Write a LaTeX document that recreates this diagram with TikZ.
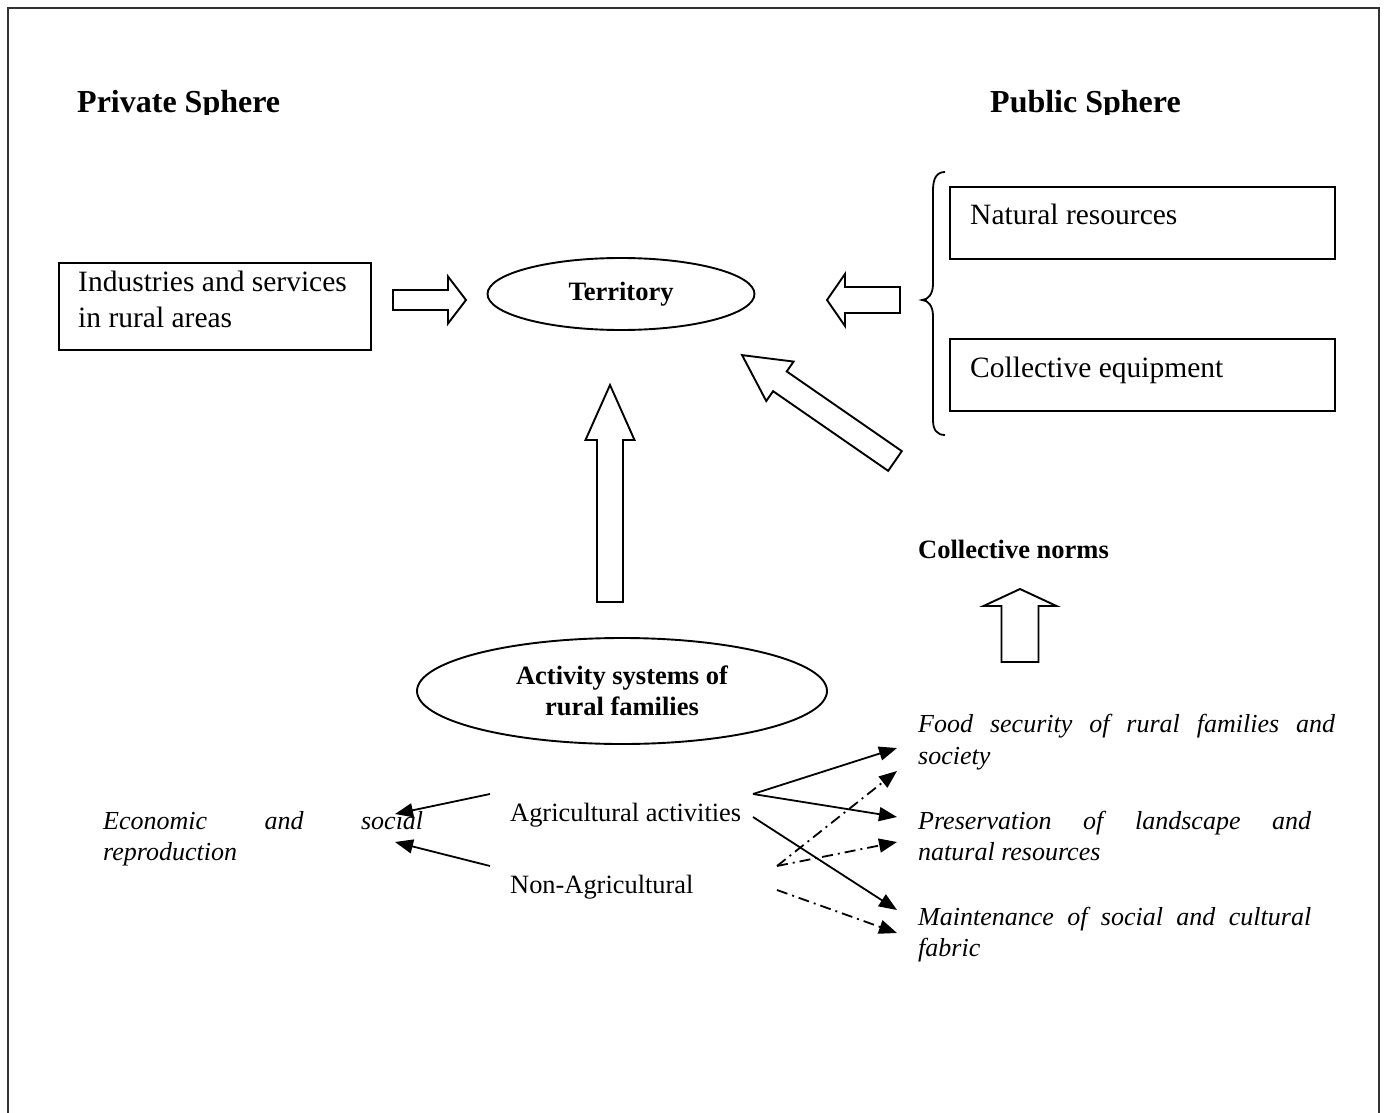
\documentclass[tikz,border=0pt]{standalone}
\usepackage{fontspec}
\setmainfont{Liberation Serif}
\usetikzlibrary{arrows.meta,shapes.geometric}
\newcommand{\barrow}[7]{\draw[blk, shift={(#1,#2)}, rotate=#3] (0,-#5) -- ({#4-#7},-#5) -- ({#4-#7},-#6) -- (#4,0) -- ({#4-#7},#6) -- ({#4-#7},#5) -- (0,#5) -- cycle;}
\begin{document}
\begin{tikzpicture}[x=1pt,y=-1pt,
 frame/.style={line width=2.5pt, draw=black!80},
 box/.style={draw, line width=1.9pt, anchor=north west, inner sep=0pt},
 blk/.style={draw, line width=1.9pt, line join=miter, fill=white},
 head/.style={font=\fontsize{32}{36}\selectfont\bfseries, anchor=base west, inner sep=0pt},
 boxtxt/.style={font=\fontsize{29.5}{36}\selectfont, anchor=base west, inner sep=0pt},
 txt/.style={font=\fontsize{26.4}{32}\selectfont, anchor=base west, inner sep=0pt},
 btxt/.style={font=\fontsize{26.5}{31}\selectfont\bfseries, align=center},
 itx/.style={font=\fontsize{26}{32}\selectfont\itshape, anchor=base west, inner sep=0pt},
 conn/.style={line width=1.8pt, -{Triangle[length=18pt,width=14pt]}},
 dd/.style={conn, dash pattern=on 11pt off 5pt on 2pt off 5pt},
]
\useasboundingbox (0,0) rectangle (1384,1113);
\fill[white] (0,0) rectangle (1384,1113);
% frame
\draw[frame] (8,1130) -- (8,8) -- (1379,8) -- (1379,1130);
% headings (clipped at the bottom as in the source)
\begin{scope}
\clip (0,0) rectangle (1384,115);
\node[head] (priv) at (77,113) {Private Sphere};
\node[head] (pub) at (990,113) {Public Sphere};
\end{scope}
% boxes
\node[box, minimum width=312, minimum height=87] (ind) at (58,262) {};
\node[boxtxt] (indt1) at (78,291) {Industries and services};
\node[boxtxt] (indt2) at (78,327) {in rural areas};
\node[box, minimum width=385, minimum height=72] (nat) at (949,186) {};
\node[boxtxt] (natt) at (970,224) {Natural resources};
\node[box, minimum width=385, minimum height=72] (col) at (949,338) {};
\node[boxtxt] (colt) at (970,377) {Collective equipment};
% brace
\draw[line width=1.8pt] (945,172) .. controls (937,172) and (933,178) .. (933,190) -- (933,284) .. controls (933,294) and (928,300) .. (922,300) .. controls (928,300) and (933,306) .. (933,316) -- (933,420) .. controls (933,430) and (937,435) .. (945,435);
% ellipses
\node[ellipse, draw, line width=1.9pt, minimum width=267, minimum height=72, inner sep=0pt, btxt] (terr) at (621,294) {Territory};
\node[ellipse, draw, line width=1.9pt, minimum width=410, minimum height=106, inner sep=0pt, btxt] (act) at (622,691) {Activity systems of\\rural families};
% block arrows
\barrow{393}{300}{0}{73}{10}{23.5}{18}
\barrow{900}{300}{180}{73}{13}{26}{18}
\barrow{610}{602}{90}{217}{13}{24.5}{55}
\barrow{895}{461}{145.3}{186}{12}{24}{46}
\barrow{1020}{662}{90}{73}{18.5}{36.5}{17}
% texts
\node[btxt, anchor=base west, inner sep=0pt] (norms) at (918,558) {Collective norms};
\node[txt] (agr) at (510,821) {Agricultural activities};
\node[txt] (nagr) at (510,893) {Non-Agricultural};
\node[itx] (eco1) at (103,829) {\hbox to 320pt{Economic\hfill and\hfill social}};
\node[itx] (eco2) at (103,860) {reproduction};
\node[itx] (food1) at (918,732) {\hbox to 417pt{Food\hfill security\hfill of\hfill rural\hfill families\hfill and}};
\node[itx] (food2) at (918,764) {society};
\node[itx] (pres1) at (918,829) {\hbox to 393pt{Preservation\hfill of\hfill landscape\hfill and}};
\node[itx] (pres2) at (918,860) {natural resources};
\node[itx] (main1) at (918,925) {\hbox to 393pt{Maintenance\hfill of\hfill social\hfill and\hfill cultural}};
\node[itx] (main2) at (918,956) {fabric};
% connector ends
\coordinate (a1) at (490,794); \coordinate (e1) at (395,814);
\coordinate (a2) at (490,866); \coordinate (e2) at (395,842);
\coordinate (v) at (753,794); \coordinate (f1) at (897,748); \coordinate (p1) at (897,817);
\coordinate (v2) at (753,817); \coordinate (m1) at (897,910);
\coordinate (d) at (777,866); \coordinate (f2) at (897,771); \coordinate (p2) at (897,842);
\coordinate (d2) at (777,890); \coordinate (m2) at (897,933);
% connectors
\draw[conn] (a1) -- (e1);
\draw[conn] (a2) -- (e2);
\draw[conn] (v) -- (f1);
\draw[conn] (v) -- (p1);
\draw[conn] (v2) -- (m1);
\draw[dd] (d) -- (f2);
\draw[dd] (d) -- (p2);
\draw[dd] (d2) -- (m2);
\end{tikzpicture}
\end{document}
